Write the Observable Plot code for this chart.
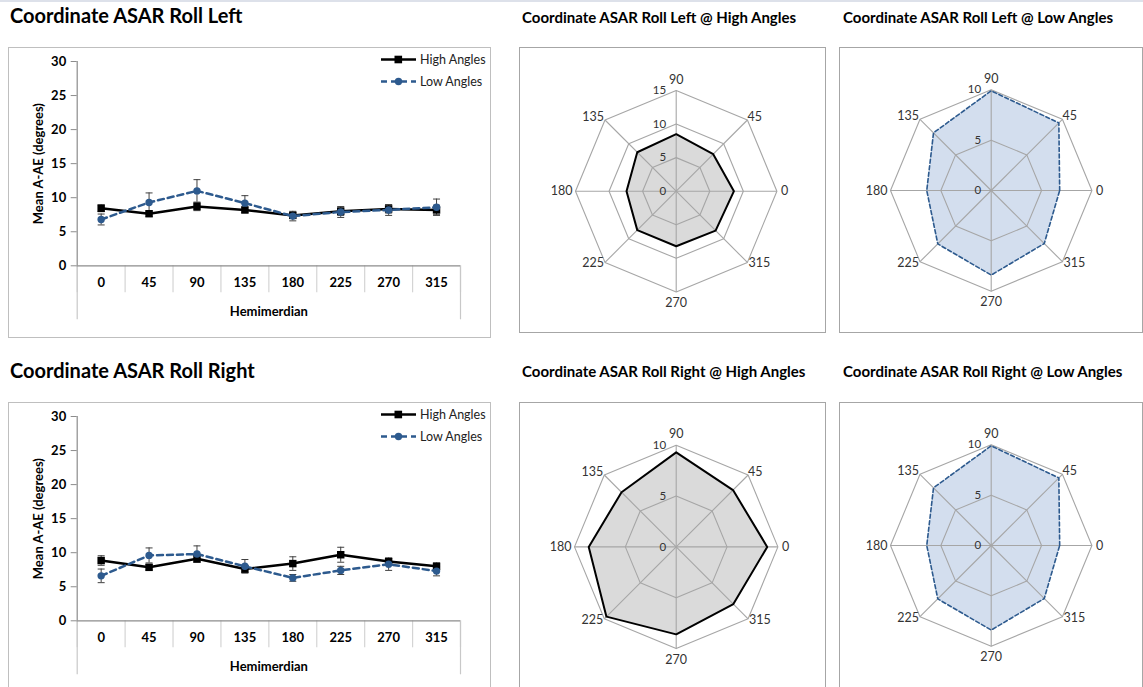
<!DOCTYPE html>
<html><head><meta charset="utf-8">
<script src="https://cdn.jsdelivr.net/npm/d3@7"></script>
<script src="https://cdn.jsdelivr.net/npm/@observablehq/plot@0.6"></script>
<style>
html,body{margin:0;padding:0;background:#fff}
body{width:1143px;height:687px;overflow:hidden;position:relative;font-family:Lato,"Open Sans",sans-serif}
.abs{position:absolute}
.panel{position:absolute;overflow:visible}
.frame{position:absolute;left:0;top:0;right:0;bottom:0;border:1px solid #a9a9a9;box-sizing:border-box;pointer-events:none}
.title{position:absolute;font-weight:bold;color:#000;white-space:nowrap;line-height:1}
.panel svg{position:absolute;left:0;top:0;overflow:visible}
</style></head>
<body>
<div class="abs" style="left:0;top:0;width:1143px;height:2px;background:#dde1ea"></div>
<script>
// ---------- data ----------
const categories = ["0", "45", "90", "135", "180", "225", "270", "315"];
const yTicks = [0, 5, 10, 15, 20, 25, 30];

// Roll Left line chart
const rollLeftHigh    = [8.45, 7.65, 8.7, 8.2, 7.4, 8.0, 8.35, 8.2];
const rollLeftHighErr = [0.5, 0.4, 0.6, 0.4, 0.4, 0.6, 0.6, 0.7];
const rollLeftLow     = [6.8, 9.3, 11.0, 9.2, 7.3, 7.9, 8.2, 8.6];
const rollLeftLowErr  = [0.8, 1.4, 1.65, 1.1, 0.7, 0.8, 0.8, 1.2];

// Roll Right line chart
const rollRightHigh    = [8.85, 7.85, 9.1, 7.6, 8.4, 9.7, 8.7, 8.0];
const rollRightHighErr = [0.7, 0.4, 0.5, 0.5, 1.0, 1.1, 0.5, 0.5];
const rollRightLow     = [6.6, 9.6, 9.8, 8.0, 6.3, 7.4, 8.3, 7.3];
const rollRightLowErr  = [1.0, 1.1, 1.2, 1.0, 0.5, 0.6, 0.9, 0.7];

// Radar charts
const rollLeftRadarHigh  = [8.6, 7.8, 8.5, 8.2, 7.4, 8.2, 8.2, 8.3];
const rollLeftRadarLow   = [6.8, 9.5, 9.9, 8.1, 6.4, 7.5, 8.4, 7.45];
const rollRightRadarHigh = [8.95, 7.9, 9.3, 7.6, 8.6, 9.7, 8.6, 7.95];
const rollRightRadarLow  = [6.8, 9.5, 9.9, 8.1, 6.4, 7.5, 8.4, 7.45];
const radarTicksHigh15 = [0, 5, 10, 15];
const radarTicks10 = [0, 5, 10];

const seriesNames = ["High Angles", "Low Angles"];
const titles = [
  "Coordinate ASAR Roll Left", "Coordinate ASAR Roll Left @ High Angles", "Coordinate ASAR Roll Left @ Low Angles",
  "Coordinate ASAR Roll Right", "Coordinate ASAR Roll Right @ High Angles", "Coordinate ASAR Roll Right @ Low Angles"
];

// ---------- styles ----------
const BLUE = "#2d5a8e";
const FONT = "Lato, 'Open Sans', sans-serif";

function addTitle(text, left, top, size) {
  const d = document.createElement("div");
  d.className = "title";
  d.style.left = left + "px";
  d.style.top = top + "px";
  d.style.fontSize = size + "px";
  d.textContent = text;
  document.body.appendChild(d);
}

function panel(left, top, w, h) {
  const p = document.createElement("div");
  p.className = "panel";
  Object.assign(p.style, {left: left + "px", top: top + "px", width: w + "px", height: h + "px", background: "#fff"});
  document.body.appendChild(p);
  return p;
}

const capSymbol = {draw(ctx) { ctx.moveTo(-3.5, 0); ctx.lineTo(3.5, 0); }};

function lineChart(left, top, high, highErr, low, lowErr) {
  const W = 483, H = 291;
  const p = panel(left, top, W, H);
  const rows = (vals, errs) => categories.map((c, i) => ({cat: c, x: i + 0.5, value: vals[i], err: errs[i]}));
  const hi = rows(high, highErr), lo = rows(low, lowErr);
  const centers = categories.map((c, i) => i + 0.5);
  const chart = Plot.plot({
    width: W, height: H,
    marginLeft: 68.7, marginRight: 31, marginTop: 14, marginBottom: 72.7,
    style: {fontFamily: FONT, background: "transparent", overflow: "visible"},
    x: {domain: [0, categories.length], axis: null, label: null},
    y: {domain: [0, 30], axis: null, label: null},
    marks: [
      Plot.axisX(d3.range(categories.length + 1), {tickSize: 27, tickFormat: () => "", stroke: "#d4d4d4", strokeWidth: 1.2, label: null}),
      Plot.axisX([0, categories.length], {tickSize: 54, tickFormat: () => "", stroke: "#c8c8c8", strokeWidth: 1.2, label: null}),
      Plot.axisX(centers, {tickSize: 0, tickPadding: 12, tickFormat: d => categories[Math.floor(d)], fontWeight: "bold", fontSize: 13, fill: "#000", label: null}),
      Plot.axisY(yTicks, {tickSize: 6, tickPadding: 5, fontWeight: "bold", fontSize: 13, stroke: "#8c8c8c", fill: "#000", label: null}),
      Plot.ruleX([0], {y1: 0, y2: 30, stroke: "#8c8c8c", strokeWidth: 1.2}),
      Plot.ruleY([0], {x1: 0, x2: categories.length, stroke: "#8c8c8c", strokeWidth: 1.2}),
      Plot.text(["Hemimerdian"], {frameAnchor: "bottom", dy: 50, fontWeight: "bold", fontSize: 13, fill: "#000"}),
      Plot.text(["Mean A-AE (degrees)"], {frameAnchor: "left", textAnchor: "middle", dx: -38, rotate: -90, fontWeight: "bold", fontSize: 13, fill: "#000"}),
      // error bars
      Plot.ruleX(hi, {x: "x", y1: d => d.value - d.err, y2: d => d.value + d.err, stroke: "#404040", strokeWidth: 1}),
      Plot.ruleX(lo, {x: "x", y1: d => d.value - d.err, y2: d => d.value + d.err, stroke: "#404040", strokeWidth: 1}),
      Plot.dot(hi, {x: "x", y: d => d.value + d.err, symbol: capSymbol, fill: "none", stroke: "#404040", strokeWidth: 1}),
      Plot.dot(hi, {x: "x", y: d => d.value - d.err, symbol: capSymbol, fill: "none", stroke: "#404040", strokeWidth: 1}),
      Plot.dot(lo, {x: "x", y: d => d.value + d.err, symbol: capSymbol, fill: "none", stroke: "#404040", strokeWidth: 1}),
      Plot.dot(lo, {x: "x", y: d => d.value - d.err, symbol: capSymbol, fill: "none", stroke: "#404040", strokeWidth: 1}),
      // series
      Plot.line(hi, {x: "x", y: "value", stroke: "#000", strokeWidth: 2.5}),
      Plot.dot(hi, {x: "x", y: "value", symbol: "square", r: 4.2, fill: "#000", stroke: "none"}),
      Plot.line(lo, {x: "x", y: "value", stroke: BLUE, strokeWidth: 2.5, strokeDasharray: "6,4"}),
      Plot.dot(lo, {x: "x", y: "value", symbol: "circle", r: 3.7, fill: BLUE, stroke: "none"})
    ]
  });
  p.appendChild(chart);
  // legend
  const lg = d3.select(p).append("svg").attr("width", W).attr("height", H)
    .style("position", "absolute").style("left", 0).style("top", 0).style("pointer-events", "none");
  const items = [
    {name: seriesNames[0], y: 12.5, color: "#000", dash: null, sym: "square"},
    {name: seriesNames[1], y: 34.5, color: BLUE, dash: "6,4", sym: "circle"}
  ];
  items.forEach(it => {
    lg.append("line").attr("x1", 373).attr("x2", 408).attr("y1", it.y).attr("y2", it.y)
      .attr("stroke", it.color).attr("stroke-width", 2.5).attr("stroke-dasharray", it.dash);
    if (it.sym === "square") lg.append("rect").attr("x", 386.5).attr("y", it.y - 3.8).attr("width", 7.6).attr("height", 7.6).attr("fill", it.color);
    else lg.append("circle").attr("cx", 390.5).attr("cy", it.y).attr("r", 3.7).attr("fill", it.color);
    lg.append("text").attr("x", 412).attr("y", it.y).attr("dy", "0.35em").attr("font-size", 12.5)
      .attr("font-family", FONT).attr("fill", "#222").text(it.name);
  });
  const fr = document.createElement("div"); fr.className = "frame"; fr.style.borderColor = "#bfbfbf"; p.appendChild(fr);
}

function radar(left, top, w, h, cx, cy, R, values, ticks, opts) {
  const p = panel(left, top, w, h);
  const max = ticks[ticks.length - 1];
  const rad = c => (+c) * Math.PI / 180;
  const pts = categories.map((c, i) => ({cat: c, a: rad(c), value: values[i]}));
  const rings = ticks.filter(t => t > 0).flatMap(t => categories.map(c => ({t, a: rad(c)})));
  const spokes = categories.map(c => ({cat: c, a: rad(c)}));
  const lx = d => max * Math.cos(d.a), ly = d => max * Math.sin(d.a);
  const group = (list) => spokes.filter(s => list.includes(s.cat));
  const labelStyle = {x: lx, y: ly, text: "cat", fontSize: 12.5, fill: "#333"};
  const chart = Plot.plot({
    width: w, height: h,
    marginLeft: cx - R, marginRight: w - cx - R, marginTop: cy - R, marginBottom: h - cy - R,
    style: {fontFamily: FONT, background: "transparent", overflow: "visible"},
    x: {domain: [-max, max], axis: null},
    y: {domain: [-max, max], axis: null},
    marks: [
      Plot.line(pts, {x: d => d.value * Math.cos(d.a), y: d => d.value * Math.sin(d.a), curve: "linear-closed", fill: opts.fill, stroke: "none"}),
      Plot.line(rings, {x: d => d.t * Math.cos(d.a), y: d => d.t * Math.sin(d.a), z: "t", curve: "linear-closed", stroke: "#a6a6a6", strokeWidth: 1.1, fill: "none"}),
      Plot.link(spokes, {x1: 0, y1: 0, x2: lx, y2: ly, stroke: "#a6a6a6", strokeWidth: 1.1}),
      Plot.line(pts, {x: d => d.value * Math.cos(d.a), y: d => d.value * Math.sin(d.a), curve: "linear-closed", fill: "none", stroke: opts.stroke, strokeWidth: opts.strokeWidth, strokeDasharray: opts.dash}),
      Plot.text(group(["90"]), {...labelStyle, textAnchor: "middle", dy: -11}),
      Plot.text(group(["270"]), {...labelStyle, textAnchor: "middle", dy: 11}),
      Plot.text(group(["0"]), {...labelStyle, textAnchor: "start", dx: 4}),
      Plot.text(group(["180"]), {...labelStyle, textAnchor: "end", dx: -3}),
      Plot.text(group(["45"]), {...labelStyle, textAnchor: "start", dx: 0, dy: -3}),
      Plot.text(group(["315"]), {...labelStyle, textAnchor: "start", dx: 1, dy: 1}),
      Plot.text(group(["135"]), {...labelStyle, textAnchor: "end", dx: -1, dy: -3}),
      Plot.text(group(["225"]), {...labelStyle, textAnchor: "end", dx: -1, dy: 1}),
      Plot.text(ticks, {x: 0, y: t => t, text: t => String(t), textAnchor: "end", dx: -10, dy: 0, fontSize: 11.5, fill: "#333"})
    ]
  });
  p.appendChild(chart);
  const fr = document.createElement("div"); fr.className = "frame"; fr.style.borderColor = "#a6a6a6"; p.appendChild(fr);
}

const highStyle = {fill: "#dadada", stroke: "#000", strokeWidth: 2, dash: null};
const lowStyle = {fill: "#d3deee", stroke: BLUE, strokeWidth: 1.6, dash: "4,2.5"};

// Row 1
addTitle(titles[0], 10, 5, 20);
addTitle(titles[1], 522, 10, 15);
addTitle(titles[2], 843, 10, 15);
lineChart(8, 47, rollLeftHigh, rollLeftHighErr, rollLeftLow, rollLeftLowErr);
radar(519, 47, 307, 286, 156.7, 143.7, 100.7, rollLeftRadarHigh, radarTicksHigh15, highStyle);
radar(839, 47, 304, 286, 151.7, 143, 100.7, rollLeftRadarLow, radarTicks10, lowStyle);

// Row 2
addTitle(titles[3], 10, 360, 20);
addTitle(titles[4], 522, 364, 15);
addTitle(titles[5], 843, 364, 15);
lineChart(8, 402, rollRightHigh, rollRightHighErr, rollRightLow, rollRightLowErr);
radar(519, 402, 307, 286, 156.7, 144.4, 101.7, rollRightRadarHigh, radarTicks10, highStyle);
radar(839, 402, 304, 286, 151.7, 143, 100.7, rollRightRadarLow, radarTicks10, lowStyle);
</script>
</body></html>
